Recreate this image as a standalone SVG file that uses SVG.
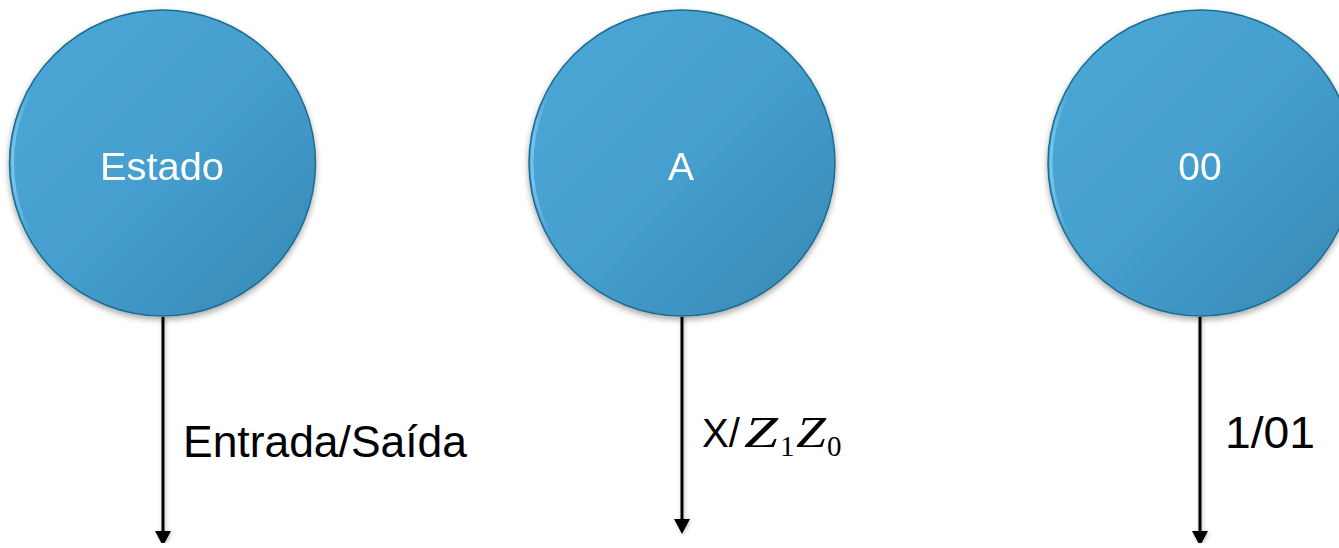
<svg xmlns="http://www.w3.org/2000/svg" width="1339" height="548" viewBox="0 0 1339 548">
<defs>
  <linearGradient id="fillG" x1="0" y1="0" x2="1" y2="1">
    <stop offset="0" stop-color="#4DA8D6"/>
    <stop offset="0.5" stop-color="#459FCE"/>
    <stop offset="1" stop-color="#3587B3"/>
  </linearGradient>
  <linearGradient id="rimG" x1="0" y1="0" x2="1" y2="0">
    <stop offset="0" stop-color="#7CC8EE" stop-opacity="0.9"/>
    <stop offset="0.06" stop-color="#7CC8EE" stop-opacity="0"/>
  </linearGradient>
  <filter id="shadow" x="-10%" y="-10%" width="120%" height="125%">
    <feGaussianBlur in="SourceAlpha" stdDeviation="3"/>
    <feOffset dx="0" dy="3"/>
    <feComponentTransfer><feFuncA type="linear" slope="0.35"/></feComponentTransfer>
    <feMerge><feMergeNode/><feMergeNode in="SourceGraphic"/></feMerge>
  </filter>
  <filter id="lineShadow" x="-200%" y="-5%" width="500%" height="110%">
    <feGaussianBlur in="SourceAlpha" stdDeviation="2"/>
    <feOffset dx="1" dy="1"/>
    <feComponentTransfer><feFuncA type="linear" slope="0.25"/></feComponentTransfer>
    <feMerge><feMergeNode/><feMergeNode in="SourceGraphic"/></feMerge>
  </filter>
  <marker id="arrow" markerUnits="userSpaceOnUse" markerWidth="16" markerHeight="16" refX="1" refY="8" orient="auto" viewBox="0 0 16 16">
    <path d="M0,0 L15,8 L0,16 Z" fill="#000"/>
  </marker>
</defs>
<style>
  .state { fill: url(#fillG); stroke: #1D6C8F; stroke-width: 1.5; }
  .rim { fill: none; stroke: url(#rimG); stroke-width: 3; }
  .stateText { fill: #FFFFFF; font-family: "Liberation Sans", Arial, sans-serif; font-size: 39px; text-anchor: middle; }
  .conn { stroke: #000; stroke-width: 3; fill: none; marker-end: url(#arrow); }
  .label { fill: #000; font-family: "Liberation Sans", Arial, sans-serif; font-size: 44px; }
  .xs { font-size: 40px; }
  .math { font-family: "Liberation Serif", "Times New Roman", serif; font-style: italic; font-size: 45px; }
  .sub { font-family: "Liberation Serif", "Times New Roman", serif; font-style: normal; font-size: 29px; }
</style>

<g id="node-estado" filter="url(#shadow)">
  <circle class="state" cx="162.5" cy="163" r="153"/>
  <circle class="rim" cx="162.5" cy="163" r="150"/>
  <text class="stateText" x="162" y="180" textLength="124" lengthAdjust="spacingAndGlyphs">Estado</text>
</g>
<g id="node-a" filter="url(#shadow)">
  <circle class="state" cx="682" cy="163" r="153"/>
  <circle class="rim" cx="682" cy="163" r="150"/>
  <text class="stateText" x="681" y="180">A</text>
</g>
<g id="node-00" filter="url(#shadow)">
  <circle class="state" cx="1201" cy="163" r="153"/>
  <circle class="rim" cx="1201" cy="163" r="150"/>
  <text class="stateText" x="1200" y="180">00</text>
</g>

<g id="connectors" filter="url(#lineShadow)">
  <line class="conn" x1="163" y1="317" x2="163" y2="532"/>
  <line class="conn" x1="682" y1="317" x2="682" y2="520"/>
  <line class="conn" x1="1200" y1="317" x2="1200" y2="532"/>
</g>

<g id="labels">
  <text class="label" x="702" y="447"><tspan class="xs">X/</tspan><tspan class="math" x="744" textLength="34" lengthAdjust="spacingAndGlyphs">Z</tspan><tspan class="sub" x="780" dy="9">1</tspan><tspan class="math" x="796" dy="-9" textLength="30" lengthAdjust="spacingAndGlyphs">Z</tspan><tspan class="sub" x="827" dy="9">0</tspan></text>
  <text class="label" x="183" y="457" textLength="284" lengthAdjust="spacingAndGlyphs">Entrada/Saída</text>
  <text class="label" x="1225" y="448" textLength="90" lengthAdjust="spacingAndGlyphs">1/01</text>
</g>
</svg>
